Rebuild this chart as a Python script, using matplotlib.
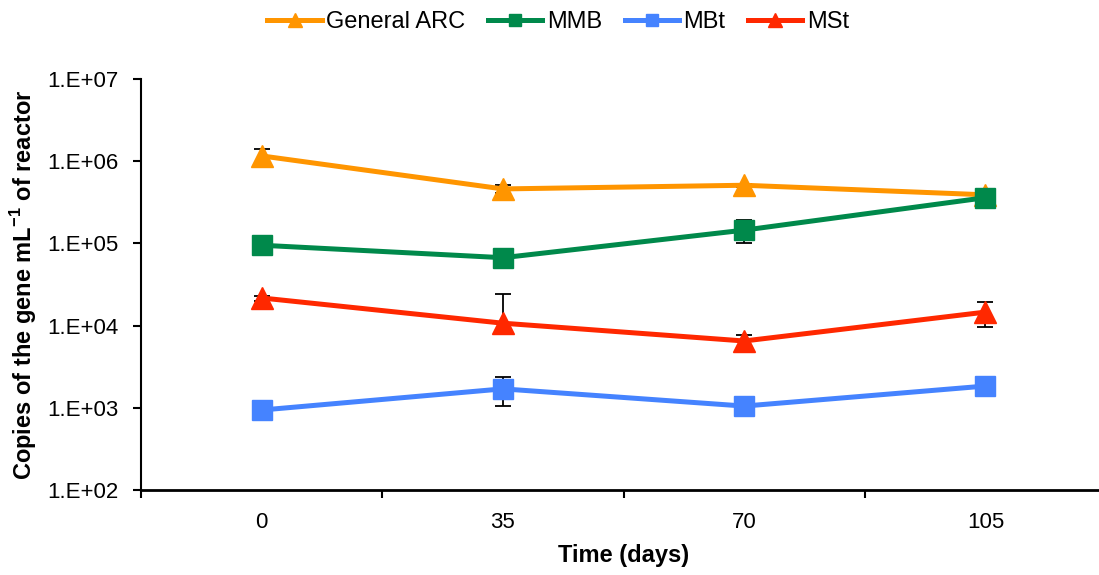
"""Gene copy numbers over reactor time (log scale)."""

import matplotlib

matplotlib.use("Agg")
import matplotlib.pyplot as plt
import numpy as np
from matplotlib.ticker import FixedLocator, FuncFormatter, NullFormatter

plt.rcParams["font.family"] = ["Liberation Sans", "DejaVu Sans"]
plt.rcParams["mathtext.fontset"] = "custom"
plt.rcParams["mathtext.rm"] = "Liberation Sans"
plt.rcParams["mathtext.bf"] = "Liberation Sans:bold"

days = ["0", "35", "70", "105"]

arc = [1.16e6, 4.6e5, 5.1e5, 3.9e5]
arc_err = [0.24e6, 0.5e5, 0.2e5, 0.2e5]
mmb = [9.5e4, 6.7e4, 1.45e5, 3.6e5]
mmb_err = [2.3e4, 0.6e4, 0.45e5, 0.3e5]
mbt = [9.4e2, 1.7e3, 1.05e3, 1.84e3]
mbt_err = [0.8e2, 0.65e3, 0.1e3, 0.1e3]
mst = [2.17e4, 1.07e4, 6.5e3, 1.46e4]
mst_err = [0.15e4, 1.33e4, 1.2e3, 0.5e4]

series = [
    ("General ARC", arc, arc_err, "#FF9500", "^"),
    ("MMB", mmb, mmb_err, "#00894B", "s"),
    ("MBt", mbt, mbt_err, "#4583FF", "s"),
    ("MSt", mst, mst_err, "#FF2800", "^"),
]

fig = plt.figure(figsize=(10.99, 5.75), dpi=100)
ax = fig.add_axes([0.1283, 0.1478, 0.8781, 0.7148])
x = np.arange(len(days))

handles = []
for name, vals, err, color, marker in series:
    vals = np.asarray(vals)
    err = np.asarray(err)
    # excel drops the lower bar when it would go below zero on a log axis
    lower = np.where(vals - err > 0, err, 0.0)
    ax.errorbar(x, vals, yerr=[lower, err], fmt="none", ecolor="black",
                elinewidth=1.3, capsize=6, capthick=1.3, zorder=2)
    (h,) = ax.plot(x, vals, color=color, linewidth=3.6, marker=marker,
                   markersize=16 if marker == "^" else 15, zorder=3, label=name)
    handles.append(h)

ax.set_yscale("log")
ax.set_ylim(1e2, 1e7)
ax.yaxis.set_major_locator(FixedLocator([10.0 ** k for k in range(2, 8)]))
ax.yaxis.set_minor_formatter(NullFormatter())
ax.yaxis.set_major_formatter(FuncFormatter(lambda v, p: "1.E+%02d" % round(np.log10(v))))
ax.tick_params(axis="y", which="minor", length=0)
ax.tick_params(axis="y", which="major", direction="out", length=6, width=1.5,
               labelsize=16, pad=10)

ax.set_xlim(-0.5, len(days) - 0.5)
ax.set_xticks(np.arange(len(days) + 1) - 0.5)
ax.xaxis.set_major_formatter(NullFormatter())
ax.set_xticks(x, minor=True)
ax.set_xticklabels(days, minor=True)
ax.tick_params(axis="x", which="major", direction="out", length=6, width=1.5)
ax.tick_params(axis="x", which="minor", length=0, labelsize=16, pad=16)

for side in ["top", "right"]:
    ax.spines[side].set_visible(False)
ax.spines["left"].set_linewidth(1.5)
ax.spines["bottom"].set_linewidth(2)

ax.set_ylabel(r"Copies of the gene mL$^{\mathbf{-1}}$ of reactor",
              fontsize=17, fontweight="bold", labelpad=6)
ax.set_xlabel("Time (days)", fontsize=17, fontweight="bold", labelpad=8)

fig.legend(handles=handles, loc="center", bbox_to_anchor=(0.508, 0.962),
           ncol=4, frameon=False, fontsize=17, handlelength=2.3,
           markerscale=0.6, columnspacing=0.95, handletextpad=0.2)

fig.savefig("out.png", dpi=100)
plt.close(fig)
